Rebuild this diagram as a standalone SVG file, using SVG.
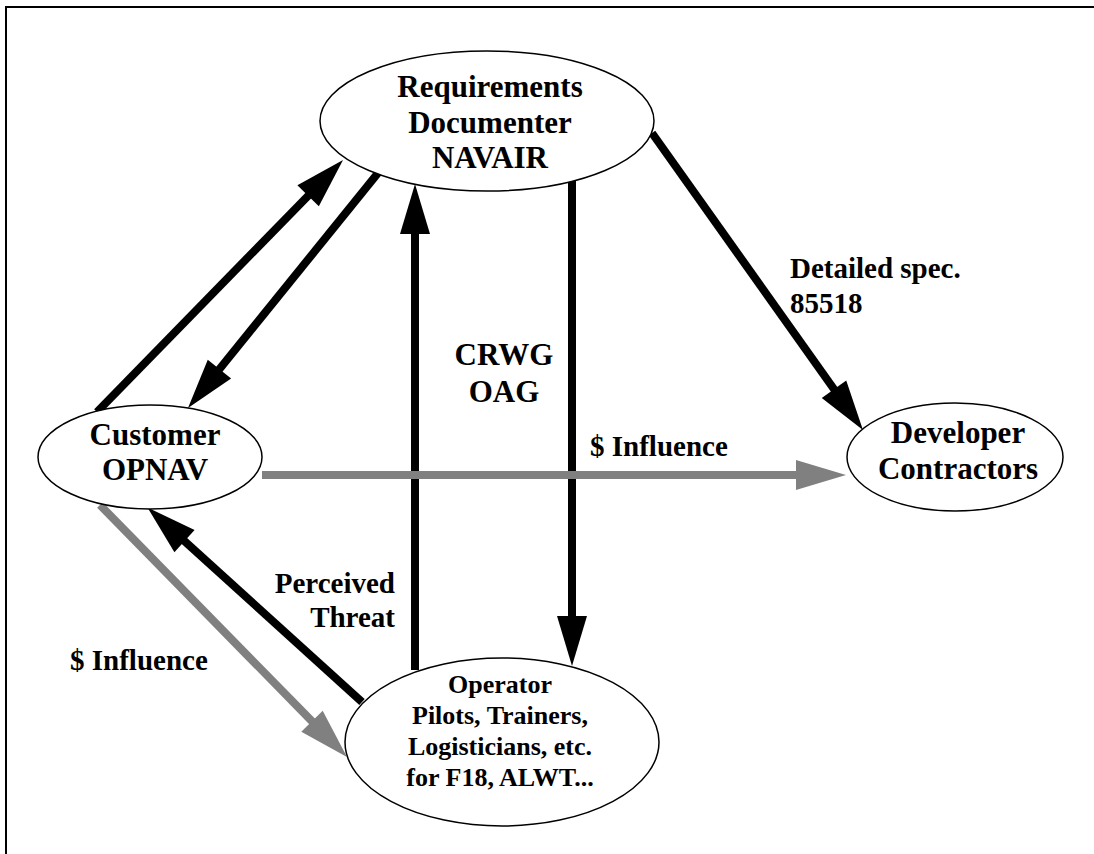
<svg xmlns="http://www.w3.org/2000/svg" width="1094" height="854" viewBox="0 0 1094 854">
<defs>
<style>
.node ellipse{fill:#fff;stroke:#000;stroke-width:1.5}
text{font-family:"Liberation Serif","Times New Roman",serif;font-weight:bold;fill:#000;text-anchor:middle}
.lbl{font-size:31px}
.tag{font-size:29px}
.small{font-size:26px}
.blk{stroke:#000;stroke-width:8;fill:none}
.gry{stroke:#808080;stroke-width:8;fill:none}
</style>
<marker id="hb" markerUnits="userSpaceOnUse" markerWidth="50" markerHeight="30" refX="5" refY="15" orient="auto" overflow="visible"><path d="M0,0 L50,15 L0,30 z" fill="#000"/></marker>
<marker id="hg" markerUnits="userSpaceOnUse" markerWidth="50" markerHeight="30" refX="5" refY="15" orient="auto" overflow="visible"><path d="M0,0 L50,15 L0,30 z" fill="#808080"/></marker>
</defs>
<rect width="1094" height="854" fill="#fff"/>
<path d="M6,854 V7 H1094" fill="none" stroke="#000" stroke-width="2"/>
<g id="connectors">
<line class="blk" x1="97" y1="412" x2="311.6" y2="192.2" marker-end="url(#hb)"/>
<line class="blk" x1="378" y1="173" x2="216.3" y2="373" marker-end="url(#hb)"/>
<line class="blk" x1="415" y1="670" x2="415" y2="229" marker-end="url(#hb)"/>
<line class="blk" x1="572" y1="181" x2="572" y2="621" marker-end="url(#hb)"/>
<line class="blk" x1="652" y1="133" x2="836.9" y2="393.3" marker-end="url(#hb)"/>
<line class="gry" x1="262" y1="475" x2="801" y2="475" marker-end="url(#hg)"/>
<line class="gry" x1="100" y1="505" x2="315.5" y2="724.9" marker-end="url(#hg)"/>
<line class="blk" x1="362" y1="702" x2="180.8" y2="537.7" marker-end="url(#hb)"/>
</g>
<g id="node-requirements" class="node">
<ellipse cx="487" cy="121" rx="167" ry="70"/>
<text class="lbl" x="490" y="97">Requirements</text>
<text class="lbl" x="490" y="133">Documenter</text>
<text class="lbl" x="490" y="168">NAVAIR</text>
</g>
<g id="node-customer" class="node">
<ellipse cx="150" cy="457" rx="112" ry="52"/>
<text class="lbl" x="155" y="445">Customer</text>
<text class="lbl" x="155" y="480">OPNAV</text>
</g>
<g id="node-developer" class="node">
<ellipse cx="955" cy="457" rx="108" ry="54"/>
<text class="lbl" x="958" y="443">Developer</text>
<text class="lbl" x="958" y="479">Contractors</text>
</g>
<g id="node-operator" class="node">
<ellipse cx="502" cy="742" rx="157" ry="84"/>
<text class="small" x="500" y="693">Operator</text>
<text class="small" x="500" y="724">Pilots, Trainers,</text>
<text class="small" x="500" y="755">Logisticians, etc.</text>
<text class="small" x="500" y="786">for F18, ALWT...</text>
</g>
<g id="labels">
<text class="tag" x="790" y="278" style="text-anchor:start">Detailed spec.</text>
<text class="tag" x="790" y="313" style="text-anchor:start">85518</text>
<text class="lbl" x="504" y="365">CRWG</text>
<text class="lbl" x="504" y="402">OAG</text>
<text class="tag" x="590" y="456" style="text-anchor:start">$ Influence</text>
<text class="tag" x="395" y="593" style="text-anchor:end">Perceived</text>
<text class="tag" x="395" y="627" style="text-anchor:end">Threat</text>
<text class="tag" x="70" y="670" style="text-anchor:start">$ Influence</text>
</g>
</svg>
